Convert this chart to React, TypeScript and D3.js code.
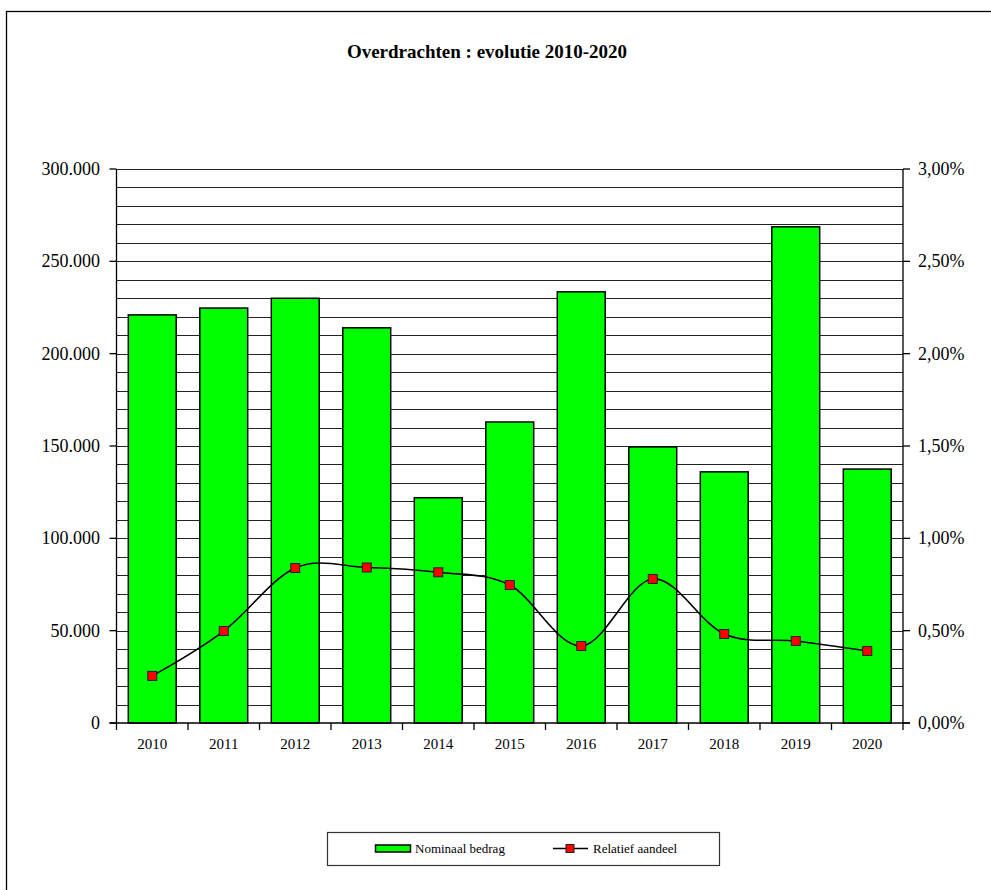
import React from "react";
import * as d3 from "d3";

const years = ["2010", "2011", "2012", "2013", "2014", "2015", "2016", "2017", "2018", "2019", "2020"];
const nominaal = [221000, 224700, 230000, 214000, 122000, 163000, 233500, 149500, 136000, 268700, 137500];
const relatief = [0.255, 0.498, 0.839, 0.842, 0.816, 0.747, 0.417, 0.78, 0.482, 0.444, 0.39];
const leftTicks = [0, 50000, 100000, 150000, 200000, 250000, 300000];
const rightTicks = [0, 0.5, 1, 1.5, 2, 2.5, 3];
const title = "Overdrachten : evolutie 2010-2020";
const legendLabels = ["Nominaal bedrag", "Relatief aandeel"];

const W = 991, H = 890;
const L = 116.5, R = 903, T = 169, B = 723;
const FONT = "'Liberation Serif', 'Times New Roman', serif";

export default function App() {
  const x = d3.scaleBand<string>().domain(years).range([L, R]).padding(0);
  const step = x.step();
  const barW = step * 0.67;
  const yL = d3.scaleLinear().domain([0, 300000]).range([B, T]);
  const yR = d3.scaleLinear().domain([0, 3]).range([B, T]);
  const grid = d3.range(10000, 300001, 10000);
  const fmtL = (v: number) => (v === 0 ? "0" : d3.format(",")(v).replace(/,/g, "."));
  const fmtR = (v: number) => v.toFixed(2).replace(".", ",") + "%";
  const line = d3
    .line<number>()
    .x((_, i) => (x(years[i]) as number) + step / 2)
    .y((d) => yR(d))
    .curve(d3.curveCatmullRom.alpha(0));

  return (
    <svg width={W} height={H} style={{ position: "absolute", left: 0, top: 0, background: "#fff" }} fontFamily={FONT}>
      <rect x={0} y={0} width={W} height={H} fill="#fff" />
      <rect x={6.5} y={11.5} width={W + 20} height={H + 20} fill="none" stroke="#000" strokeWidth={1.3} />
      <text x={487} y={58} textAnchor="middle" fontSize={19} fontWeight="bold" fill="#000">{title}</text>

      {grid.map((g) => (
        <line key={g} x1={L} x2={R} y1={Math.round(yL(g)) + 0.5} y2={Math.round(yL(g)) + 0.5} stroke="#222" strokeWidth={1} />
      ))}

      {years.map((yr, i) => {
        const cx = (x(yr) as number) + step / 2;
        return (
          <rect key={yr} x={cx - barW / 2} y={yL(nominaal[i])} width={barW} height={B - yL(nominaal[i])}
            fill="#00ff00" stroke="#000" strokeWidth={1.5} />
        );
      })}

      {/* axes */}
      <line x1={L} x2={L} y1={T} y2={B + 7} stroke="#000" strokeWidth={1.3} />
      <line x1={R} x2={R} y1={T} y2={B + 7} stroke="#000" strokeWidth={1.3} />
      <line x1={L - 7} x2={R + 7} y1={B} y2={B} stroke="#000" strokeWidth={1.5} />
      {leftTicks.map((t) => (
        <g key={t}>
          <line x1={L - 7} x2={L} y1={yL(t)} y2={yL(t)} stroke="#000" strokeWidth={1.3} />
          <text x={100} y={yL(t) + 6} textAnchor="end" fontSize={18} fill="#000">{fmtL(t)}</text>
        </g>
      ))}
      {rightTicks.map((t) => (
        <g key={t}>
          <line x1={R} x2={R + 7} y1={yR(t)} y2={yR(t)} stroke="#000" strokeWidth={1.3} />
          <text x={918} y={yR(t) + 6} textAnchor="start" fontSize={18} fill="#000">{fmtR(t)}</text>
        </g>
      ))}
      {years.map((yr, i) => (
        <g key={yr}>
          {i > 0 && <line x1={x(yr)} x2={x(yr)} y1={B} y2={B + 7} stroke="#000" strokeWidth={1.3} />}
          <text x={(x(yr) as number) + step / 2} y={B + 26} textAnchor="middle" fontSize={15} fill="#000">{yr}</text>
        </g>
      ))}

      <path d={line(relatief) || ""} fill="none" stroke="#000" strokeWidth={1.6} />
      {relatief.map((v, i) => (
        <rect key={i} x={(x(years[i]) as number) + step / 2 - 4.5} y={yR(v) - 4.5} width={9} height={9}
          fill="#ff0000" stroke="#222" strokeWidth={1} />
      ))}

      {/* legend */}
      <rect x={327.5} y={832.5} width={392} height={33} fill="#fff" stroke="#333" strokeWidth={1.2} />
      <rect x={375.5} y={845} width={35} height={7} fill="#00ff00" stroke="#000" strokeWidth={1.5} />
      <text x={415} y={853} fontSize={13} fill="#000">{legendLabels[0]}</text>
      <line x1={553} x2={588} y1={848.5} y2={848.5} stroke="#000" strokeWidth={1.6} />
      <rect x={566} y={844.5} width={8} height={8} fill="#ff0000" stroke="#222" strokeWidth={1} />
      <text x={593} y={853} fontSize={13} fill="#000">{legendLabels[1]}</text>
    </svg>
  );
}
